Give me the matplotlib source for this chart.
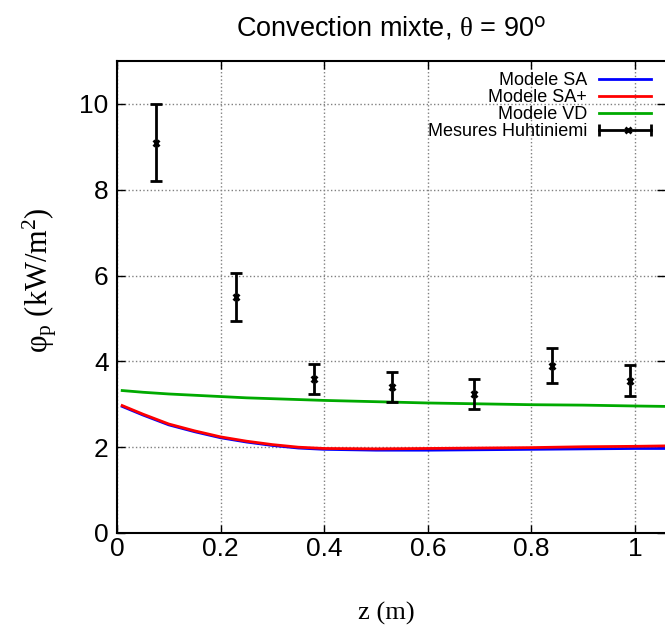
import matplotlib
matplotlib.use("Agg")
import matplotlib.pyplot as plt
from matplotlib.lines import Line2D
from matplotlib.legend_handler import HandlerBase

# courbes des modeles
z = [0.01, 0.05, 0.1, 0.15, 0.2, 0.25, 0.3, 0.35, 0.4, 0.5, 0.6, 0.7, 0.8, 0.9, 1.0, 1.06]
phi_sa = [2.95, 2.75, 2.52, 2.36, 2.22, 2.12, 2.04, 1.98, 1.95, 1.93, 1.93, 1.94, 1.95, 1.96, 1.97, 1.97]
phi_sap = [2.97, 2.77, 2.54, 2.38, 2.24, 2.14, 2.06, 2.00, 1.97, 1.96, 1.97, 1.98, 1.99, 2.01, 2.02, 2.03]
phi_vd = [3.32, 3.28, 3.24, 3.21, 3.18, 3.15, 3.13, 3.11, 3.09, 3.06, 3.03, 3.01, 2.99, 2.98, 2.96, 2.95]

# mesures Huhtiniemi
z_mes = [0.075, 0.23, 0.38, 0.53, 0.69, 0.84, 0.99]
phi_mes = [9.1, 5.5, 3.6, 3.4, 3.25, 3.9, 3.55]
err_mes = [0.9, 0.55, 0.35, 0.35, 0.35, 0.4, 0.36]


class HandlerBarreH(HandlerBase):
    # echantillon de legende facon gnuplot : barre horizontale avec la croix
    def create_artists(self, legend, orig_handle, xdescent, ydescent,
                       width, height, fontsize, trans):
        y = height / 2 - ydescent
        x0, x1 = -xdescent, width - xdescent
        barre = Line2D([x0, x1], [y, y], color='black', lw=2,
                       marker='|', ms=8, mew=2, transform=trans)
        croix = Line2D([x0 + 0.55 * (x1 - x0)], [y], color='black', marker='x',
                       ms=5, mew=2, transform=trans)
        return [barre, croix]


plt.rcParams['font.family'] = 'Liberation Sans'
plt.rcParams['mathtext.fontset'] = 'custom'
plt.rcParams['mathtext.rm'] = 'Liberation Serif'
plt.rcParams['mathtext.it'] = 'Liberation Serif'

fig = plt.figure(figsize=(6.65, 6.31), dpi=100)
ax = fig.add_axes([117 / 665, 1 - 533 / 631, 1 - 117 / 665, (533 - 61) / 631])

ax.plot(z, phi_sa, color='#0000ff', lw=2, label='Modele SA')
ax.plot(z, phi_sap, color='#ff0000', lw=2, label='Modele SA+')
ax.plot(z, phi_vd, color='#00aa00', lw=2, label='Modele VD')
mes = ax.errorbar(z_mes, phi_mes, yerr=err_mes, fmt='x', color='black', ms=5, mew=2,
                  elinewidth=2, capsize=4, capthick=2, label='Mesures Huhtiniemi')

ax.set_xlim(0, 1.058)
ax.set_ylim(0, 11)
ax.set_xticks([0, 0.2, 0.4, 0.6, 0.8, 1.0])
ax.set_xticklabels(['0', '0.2', '0.4', '0.6', '0.8', '1'])
ax.set_yticks([0, 2, 4, 6, 8, 10])
ax.tick_params(direction='in', top=True, right=True, labelsize=19, length=6, width=1)
ax.tick_params(axis='x', pad=3)
ax.tick_params(axis='y', pad=6)
ax.grid(True, linestyle=':', color='gray', lw=1)
ax.spines['right'].set_visible(False)
for s in ['left', 'bottom', 'top']:
    ax.spines[s].set_linewidth(1.5)

ax.set_title(r'Convection mixte, $\theta$ = 90$^{\mathsf{o}}$', fontsize=19.5, pad=18)
ax.set_xlabel('z (m)', family='Liberation Serif', fontsize=19)
ax.xaxis.set_label_coords(0.491, -0.147)
ax.set_ylabel(r'$\mathrm{\varphi_p}$ (kW/m$^2$)', family='Liberation Serif', fontsize=22)
ax.yaxis.set_label_coords(-0.105, 0.536)

ax.legend(loc='upper right', bbox_to_anchor=(1 - 3 / 548, 1), frameon=False,
          markerfirst=False, fontsize=13, labelspacing=0.0, handlelength=2.9,
          borderaxespad=0.2, handletextpad=0.66,
          handler_map={type(mes): HandlerBarreH()})

fig.savefig('out.png', dpi=100)
